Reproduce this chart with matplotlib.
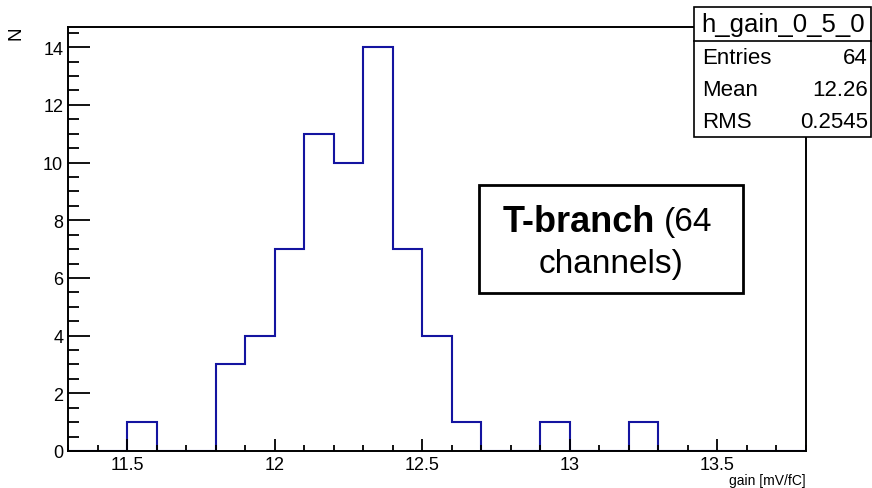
import numpy as np
import matplotlib
matplotlib.use("Agg")
import matplotlib.pyplot as plt
from matplotlib.patches import Rectangle
from matplotlib.lines import Line2D
from matplotlib.ticker import MultipleLocator

plt.rcParams['font.family'] = ['Liberation Sans', 'DejaVu Sans']

# Data
bin_edges = np.round(np.arange(11.3, 13.8001, 0.1), 2)
counts = [0, 0, 1, 0, 0, 3, 4, 7, 11, 10, 14, 7, 4, 1, 0, 0, 1, 0, 0, 1, 0, 0, 0, 0, 0]
hist_name = "h_gain_0_5_0"
stats_labels = ["Entries", "Mean", "RMS"]
stats_values = ["64", "12.26", "0.2545"]
xtick_vals = [11.5, 12, 12.5, 13, 13.5]
xtick_labels = ["11.5", "12", "12.5", "13", "13.5"]
xlabel = "gain [mV/fC]"
ylabel = "N"

W, H = 872, 489
fig = plt.figure(figsize=(W / 100, H / 100), dpi=100)

def fx(px):
    return px / W

def fy(py):
    return 1 - py / H

ax = fig.add_axes([fx(68), fy(452), fx(806) - fx(68), fy(28) - fy(452)])
ax.stairs(counts, bin_edges, color='#1414a0', linewidth=1.5, baseline=0)
ax.set_xlim(11.3, 13.8)
ax.set_ylim(0, 14.7)

ax.xaxis.set_minor_locator(MultipleLocator(0.1))
ax.yaxis.set_major_locator(MultipleLocator(2))
ax.yaxis.set_minor_locator(MultipleLocator(0.5))
ax.set_xticks(xtick_vals)
ax.set_xticklabels(xtick_labels)

ax.tick_params(axis='x', which='major', direction='in', length=8.6, width=1.3, labelsize=13, pad=3.5)
ax.tick_params(axis='x', which='minor', direction='in', length=4.3, width=1.3)
ax.tick_params(axis='y', which='major', direction='in', length=15.8, width=1.3, labelsize=13, pad=3.5)
ax.tick_params(axis='y', which='minor', direction='in', length=8, width=1.3)
for s in ax.spines.values():
    s.set_linewidth(1.4)

fig.text(fx(806), fy(481), xlabel, ha='right', va='center', fontsize=10)
fig.text(fx(16), fy(33), ylabel, ha='center', va='center', fontsize=13.5, rotation=90)

# Stats box
fig.add_artist(Rectangle((fx(694), fy(138)), fx(871) - fx(694), fy(8) - fy(138),
                         transform=fig.transFigure, facecolor='white', edgecolor='black',
                         linewidth=1.2, zorder=5))
fig.add_artist(Line2D([fx(694), fx(871)], [fy(42), fy(42)], transform=fig.transFigure,
                      color='black', linewidth=1.2, zorder=6))
fig.text(fx(783), fy(25), hist_name, ha='center', va='center', fontsize=18.5, zorder=7)
row_y = [58, 90, 122]
for lab, val, yy in zip(stats_labels, stats_values, row_y):
    fig.text(fx(702), fy(yy), lab, ha='left', va='center', fontsize=16, zorder=7)
    fig.text(fx(868), fy(yy), val, ha='right', va='center', fontsize=16, zorder=7)

# T-branch box
fig.add_artist(Rectangle((fx(479), fy(294)), fx(743) - fx(479), fy(186) - fy(294),
                         transform=fig.transFigure, facecolor='white', edgecolor='black',
                         linewidth=2, zorder=5))
fig.text(fx(503), fy(222), "T-branch", ha='left', va='center', fontsize=26,
         fontweight='bold', zorder=7)
fig.text(fx(664), fy(222), "(64", ha='left', va='center', fontsize=24, zorder=7)
fig.text(fx(611), fy(265), "channels)", ha='center', va='center', fontsize=24, zorder=7)

fig.savefig("out.png", dpi=100)
